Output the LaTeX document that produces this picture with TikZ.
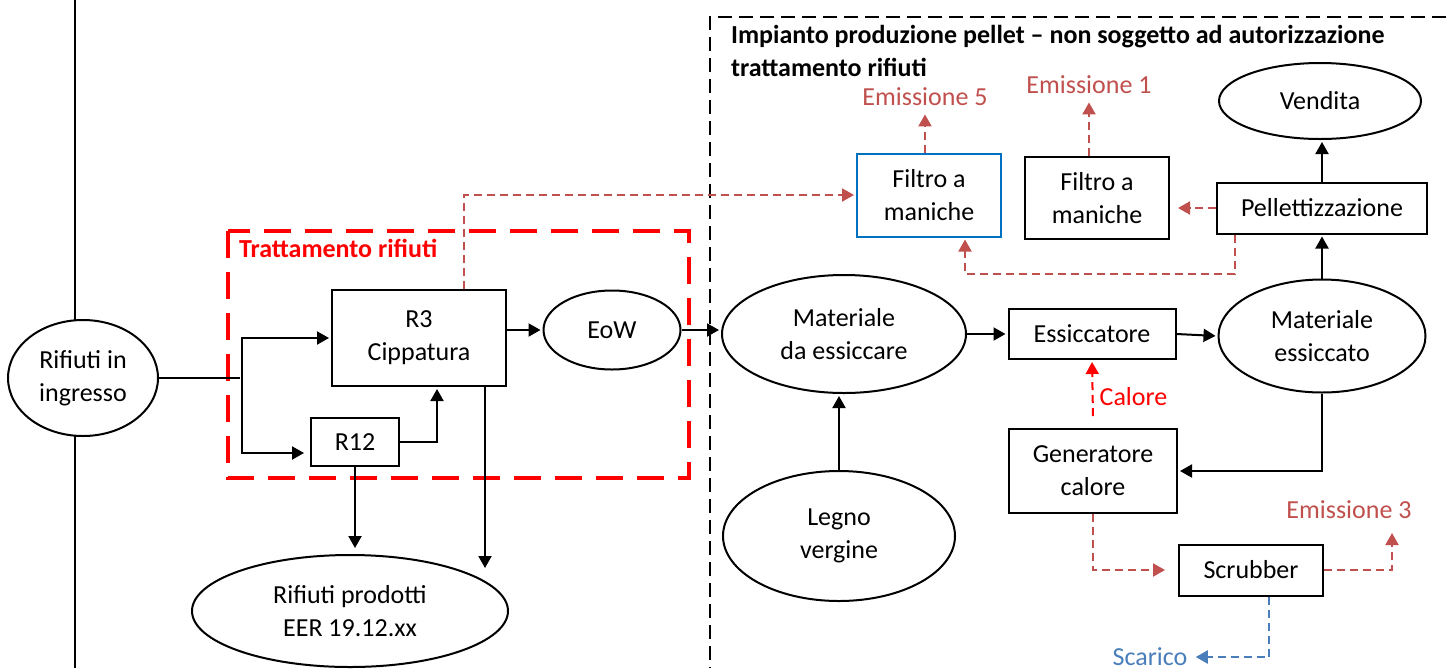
\documentclass[tikz,border=0pt]{standalone}
\usepackage{fontspec}
\setmainfont{Carlito}
\usetikzlibrary{arrows.meta, shapes.geometric, calc}

\definecolor{emisred}{HTML}{C0504D}
\definecolor{scablue}{HTML}{4A7EBB}
\definecolor{filblue}{HTML}{0070C0}

\newcommand{\txtsize}{\fontsize{13}{16.4}\selectfont}

\begin{document}
\begin{tikzpicture}[x=0.5pt,y=-0.5pt,>={Triangle[length=6pt,width=6.5pt]},shorten >=1pt,
  every node/.style={font=\txtsize},
  box/.style={draw,line width=1pt,fill=white,inner sep=0pt,align=center},
  blob/.style={ellipse,draw,line width=1pt,fill=white,inner sep=0pt,align=center},
  line/.style={line width=1pt},
  emis/.style={draw=emisred,line width=1pt,dash pattern=on 4pt off 2.5pt},
  scar/.style={draw=scablue,line width=1pt,dash pattern=on 4pt off 2.5pt},
  heat/.style={draw=red,line width=1pt,dash pattern=on 4pt off 2.5pt},
  emtext/.style={text=emisred,inner sep=3pt},
  plant/.style={line width=1pt,dash pattern=on 7pt off 3.5pt},
  trbox/.style={draw=red,line width=2pt,dash pattern=on 13.5pt off 7pt}]

\useasboundingbox (0,0) rectangle (1446,670);

% define the frames
  \draw[line] (75,0) -- (75,670);
  \draw[plant] (1446,17) -- (710,17) -- (710,670);
  \draw[trbox] (228,231) rectangle (689,478);
  \node[anchor=west, text=red, font=\txtsize\bfseries] (trlabel) at (232,248) {Trattamento rifiuti};
  \node[anchor=west, align=left, font=\txtsize\bfseries] (title) at (724,51)
{Impianto produzione pellet – non soggetto ad autorizzazione\\trattamento rifiuti};

% define the waste treatment side
  \node[blob, minimum width=75pt, minimum height=58pt]     (in)   at (83,378)
{Rifiuti in\\ingresso};
  \node[box, minimum width=87pt, minimum height=48pt]      (r3)   at (419,338)
{R3\\Cippatura};
  \node[box, minimum width=44pt, minimum height=24pt]      (r12)  at (355,442)
{R12};
  \node[blob, minimum width=68.5pt, minimum height=39.5pt] (eow)  at (612,330)
{EoW};
  \node[blob, minimum width=158pt, minimum height=56pt]    (out)  at (350,611)
{Rifiuti prodotti\\EER 19.12.xx};

% define the pellet plant
  \node[blob, minimum width=122pt, minimum height=59pt]    (mde)  at (844,334)
{Materiale\\da essiccare};
  \node[blob, minimum width=116pt, minimum height=65pt]    (leg)  at (839,536)
{Legno\\vergine};
  \node[box, minimum width=83.5pt, minimum height=25pt]    (ess)  at (1092,334)
{Essiccatore};
  \node[blob, minimum width=103.5pt, minimum height=56.5pt] (mes) at (1322,336)
{Materiale\\essiccato};
  \node[box, draw=filblue, minimum width=72pt, minimum height=41.5pt] (f5) at (929,195)
{Filtro a\\maniche};
  \node[box, minimum width=72pt, minimum height=41pt]      (f1)   at (1097,198)
{Filtro a\\maniche};
  \node[box, minimum width=105pt, minimum height=25.5pt]   (pel)  at (1322,208)
{Pellettizzazione};
  \node[blob, minimum width=101pt, minimum height=38pt]    (ven)  at (1320,101)
{Vendita};
  \node[box, minimum width=84pt, minimum height=42pt]      (gen)  at (1093,471)
{Generatore\\calore};
  \node[box, minimum width=72pt, minimum height=25.5pt]    (scr)  at (1251,570)
{Scrubber};

% define the emission labels
  \node[emtext] (e5)  at (925,97)   {Emissione 5};
  \node[emtext] (e1)  at (1089,85)  {Emissione 1};
  \node[emtext] (e3)  at (1349,510) {Emissione 3};
  \node[text=scablue, inner sep=3pt] (sca) at (1150,657) {Scarico};
  \coordinate (sp)    at (242,378);
  \coordinate (drop)  at (485,570);
  \coordinate (e3tip) at (1392,531);

% define the links
  \draw[line] (in.east) -- (sp);
  \draw[line,->] (sp) |- (r3.west);
  \draw[line,->,shorten >=3pt] (sp) |- ($(r12.west)+(0,11)$);
  \draw[line,->] (r12.east) -| ($(r3.south)+(18,0)$);
  \draw[line,->] (r3.south -| drop) -- (drop);
  \draw[line,->,shorten >=3pt] (r12.south) -- (r12.south |- out.north);
  \path[line,->] (r3.east |- eow) edge (eow.west)
        (eow.east) edge (eow.east -| mde.west)
        (mde.east) edge (ess.west)
        (ess.east) edge (mes.west)
        (leg.north) edge (leg.north |- mde.south)
        (mes.north) edge (pel.south)
        (pel.north) edge (pel.north |- ven.south);
  \draw[line,->] (mes.south) |- (gen.east);

% define the emissions
  \draw[emis,->] ($(r3.north)+(45,0)$) |- (f5.west);
  \draw[emis,->] (e5.south |- f5.north) -- (e5.south);
  \draw[emis,->] (e1.south |- f1.north) -- (e1.south);
  \draw[emis,->,shorten >=4pt] (pel.west) -- (pel.west -| f1.east);
  \draw[emis,->] ($(pel.south)+(-87,0)$) -- ++(0,39) -| ($(f5.south)+(36,0)$);
  \draw[heat,->] ($(gen.north)+(0,-12)$) -- (ess.south)
        node[pos=0.35, right, text=red, inner sep=3pt] (cal) {Calore};
  \draw[emis,->,shorten >=6.5pt] (gen.south) |- (scr.west);
  \draw[emis,->] (scr.east) -| (e3tip);
  \draw[scar,->] ($(scr.south)+(18,0)$) |- (sca.east);

\end{tikzpicture}
\end{document}
